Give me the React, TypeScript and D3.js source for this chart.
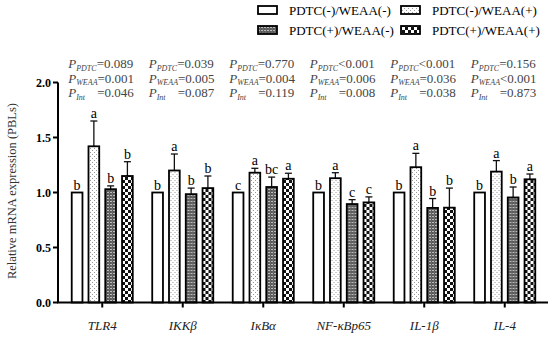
import React, { useEffect, useRef } from 'react';
import * as d3 from 'd3';

const genes = ['TLR4', 'IKKβ', 'IκBα', 'NF-κBp65', 'IL-1β', 'IL-4'];
const groups = ['PDTC(-)/WEAA(-)', 'PDTC(-)/WEAA(+)', 'PDTC(+)/WEAA(-)', 'PDTC(+)/WEAA(+)'];

// mean values per group, one array per treatment
const meanNN = [1.0, 1.0, 1.0, 1.0, 1.0, 1.0];
const meanNP = [1.42, 1.2, 1.18, 1.13, 1.23, 1.19];
const meanPN = [1.03, 0.985, 1.05, 0.895, 0.86, 0.955];
const meanPP = [1.15, 1.04, 1.125, 0.91, 0.862, 1.12];

// top of error bar (mean + SE)
const errNN = [1.0, 1.0, 1.0, 1.0, 1.0, 1.0];
const errNP = [1.65, 1.35, 1.22, 1.18, 1.356, 1.29];
const errPN = [1.06, 1.04, 1.14, 0.935, 0.945, 1.05];
const errPP = [1.28, 1.15, 1.175, 0.96, 1.04, 1.168];

const letterNN = ['b', 'b', 'c', 'b', 'b', 'b'];
const letterNP = ['a', 'a', 'a', 'a', 'a', 'a'];
const letterPN = ['b', 'b', 'bc', 'c', 'b', 'b'];
const letterPP = ['b', 'b', 'a', 'c', 'b', 'a'];

const pPDTC = ['=0.089', '=0.039', '=0.770', '<0.001', '<0.001', '=0.156'];
const pWEAA = ['=0.001', '=0.005', '=0.004', '=0.006', '=0.036', '<0.001'];
const pInt = ['=0.046', '=0.087', '=0.119', '=0.008', '=0.038', '=0.873'];

const yTicks = [0, 0.5, 1.0, 1.5, 2.0];

const means = [meanNN, meanNP, meanPN, meanPP];
const errs = [errNN, errNP, errPN, errPP];
const letters = [letterNN, letterNP, letterPN, letterPP];
const fills = ['#ffffff', 'url(#dots)', 'url(#grey)', 'url(#check)'];

const FONT = '"Liberation Serif", "Times New Roman", serif';

export default function App() {
  const svgRef = useRef<SVGSVGElement | null>(null);
  const width = 550;
  const height = 338;

  useEffect(() => {
    if (!svgRef.current) return;
    const svg = d3.select(svgRef.current);
    svg.selectAll('*').remove();

    // patterns
    const defs = svg.append('defs');
    const dots = defs.append('pattern').attr('id', 'dots').attr('patternUnits', 'userSpaceOnUse')
      .attr('width', 4).attr('height', 4);
    dots.append('rect').attr('width', 4).attr('height', 4).attr('fill', '#fff');
    dots.append('rect').attr('x', 0).attr('y', 0).attr('width', 1).attr('height', 1).attr('fill', '#999');
    dots.append('rect').attr('x', 2).attr('y', 2).attr('width', 1).attr('height', 1).attr('fill', '#999');

    const grey = defs.append('pattern').attr('id', 'grey').attr('patternUnits', 'userSpaceOnUse')
      .attr('width', 3).attr('height', 3);
    grey.append('rect').attr('width', 3).attr('height', 3).attr('fill', '#555');
    grey.append('rect').attr('x', 0).attr('y', 0).attr('width', 2).attr('height', 1).attr('fill', '#bbb');
    grey.append('rect').attr('x', 1.5).attr('y', 1.5).attr('width', 1).attr('height', 1).attr('fill', '#999');

    const check = defs.append('pattern').attr('id', 'check').attr('patternUnits', 'userSpaceOnUse')
      .attr('width', 6).attr('height', 6);
    check.append('rect').attr('width', 6).attr('height', 6).attr('fill', '#fff');
    check.append('rect').attr('x', 0).attr('y', 0).attr('width', 3).attr('height', 3).attr('fill', '#111');
    check.append('rect').attr('x', 3).attr('y', 3).attr('width', 3).attr('height', 3).attr('fill', '#111');

    const axisX0 = 58;
    const axisX1 = 548;
    const y = d3.scaleLinear().domain([0, 2]).range([302.5, 82.5]);
    const x0 = d3.scaleBand().domain(genes).range([62, 545]).padding(0);
    const x1 = d3.scaleBand<number>().domain([0, 1, 2, 3]).range([0, x0.bandwidth()])
      .paddingInner(0.36).paddingOuter(0.58);

    // bars
    genes.forEach((g, gi) => {
      const grp = svg.append('g').attr('transform', `translate(${x0(g)},0)`);
      means.forEach((m, si) => {
        const bx = x1(si)!;
        const bw = x1.bandwidth();
        const cx = bx + bw / 2;
        const e = errs[si][gi];
        if (e > m[gi]) {
          grp.append('line').attr('x1', cx).attr('x2', cx).attr('y1', y(m[gi])).attr('y2', y(e))
            .attr('stroke', '#111').attr('stroke-width', 1.3);
          grp.append('line').attr('x1', cx - 3.5).attr('x2', cx + 3.5).attr('y1', y(e)).attr('y2', y(e))
            .attr('stroke', '#111').attr('stroke-width', 1.3);
        }
        grp.append('rect').attr('x', bx).attr('y', y(m[gi])).attr('width', bw)
          .attr('height', y(0) - y(m[gi])).attr('fill', fills[si])
          .attr('stroke', '#000').attr('stroke-width', 1.8);
        grp.append('text').attr('x', cx).attr('y', y(Math.max(e, m[gi])) - 3)
          .attr('text-anchor', 'middle').attr('font-family', FONT).attr('font-size', 14)
          .attr('fill', '#000').text(letters[si][gi]);
      });
    });

    // y axis
    const yAxis = svg.append('g').attr('transform', `translate(${axisX0},0)`);
    yAxis.append('line').attr('x1', 0).attr('x2', 0).attr('y1', y(2)).attr('y2', y(0))
      .attr('stroke', '#000').attr('stroke-width', 2);
    yTicks.forEach((t) => {
      yAxis.append('line').attr('x1', -5).attr('x2', 0).attr('y1', y(t)).attr('y2', y(t))
        .attr('stroke', '#000').attr('stroke-width', 2);
      yAxis.append('text').attr('x', -7).attr('y', y(t)).attr('dy', '0.35em')
        .attr('text-anchor', 'end').attr('font-family', FONT).attr('font-weight', 'bold')
        .attr('font-size', 12).attr('fill', '#000').text(t.toFixed(1));
    });

    // x axis
    svg.append('line').attr('x1', axisX0 - 1).attr('x2', axisX1).attr('y1', y(0)).attr('y2', y(0))
      .attr('stroke', '#000').attr('stroke-width', 2);
    genes.forEach((g) => {
      const cx = x0(g)! + x0.bandwidth() / 2;
      svg.append('line').attr('x1', cx).attr('x2', cx).attr('y1', y(0)).attr('y2', y(0) + 5)
        .attr('stroke', '#000').attr('stroke-width', 2);
      svg.append('text').attr('x', cx).attr('y', 330).attr('text-anchor', 'middle')
        .attr('font-family', FONT).attr('font-style', 'italic').attr('font-size', 13)
        .attr('fill', '#222').text(g);
    });

    // y title
    svg.append('text').attr('transform', 'translate(16,191) rotate(-90)').attr('text-anchor', 'middle')
      .attr('font-family', FONT).attr('font-size', 12.5).attr('fill', '#333')
      .text('Relative mRNA expression (PBLs)');

    // P values
    const pRows: [string, string[]][] = [['PDTC', pPDTC], ['WEAA', pWEAA], ['Int', pInt]];
    genes.forEach((g, gi) => {
      const sx = x0(g)! + x0.bandwidth() / 2 - 34;
      pRows.forEach(([sub, vals], ri) => {
        const t = svg.append('text').attr('x', sx).attr('y', 68 + ri * 14.5)
          .attr('font-family', FONT).attr('font-size', 13).attr('fill', '#444');
        t.append('tspan').attr('font-style', 'italic').text('P');
        t.append('tspan').attr('font-style', 'italic').attr('font-size', 8).attr('dy', 2.5).text(sub);
        const v = t.append('tspan').attr('dy', -2.5).text(vals[gi]);
        if (sub === 'Int') v.attr('x', sx + 29);
      });
    });

    // legend
    const legendPos = [
      { x: 258, y: 10 },
      { x: 401, y: 10 },
      { x: 258, y: 30 },
      { x: 401, y: 30 },
    ];
    groups.forEach((name, i) => {
      const p = legendPos[i];
      svg.append('rect').attr('x', p.x).attr('y', p.y - 4).attr('width', 19).attr('height', 8)
        .attr('fill', fills[i]).attr('stroke', '#000').attr('stroke-width', 1.8);
      svg.append('text').attr('x', p.x + 31).attr('y', p.y).attr('dy', '0.35em')
        .attr('font-family', FONT).attr('font-size', 13).attr('fill', '#000').text(name);
    });
  }, []);

  return (
    <svg
      ref={svgRef}
      width={width}
      height={height}
      style={{ position: 'absolute', left: 0, top: 0, background: '#fff' }}
    />
  );
}
